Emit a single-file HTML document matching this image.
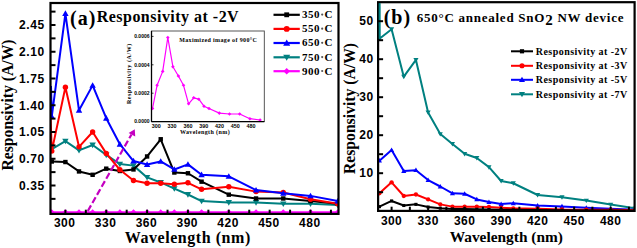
<!DOCTYPE html><html><head><meta charset="utf-8"><style>html,body{margin:0;padding:0;background:#fff;width:637px;height:248px;overflow:hidden}svg{display:block}</style></head><body><svg width="637" height="248" viewBox="0 0 637 248">
<rect width="637" height="248" fill="#fff"/>
<defs><clipPath id="ca"><rect x="50" y="2" width="289" height="211"/></clipPath><clipPath id="cb"><rect x="377" y="2" width="258" height="210"/></clipPath></defs>
<g clip-path="url(#ca)">
<polyline points="51.78,212.25 65.4,212.25 79.02,212.25 92.63,212.25 106.25,212.25 119.87,212.25 133.49,212.25 147.1,212.25 160.72,212.25 174.34,212.25 187.95,212.25 201.57,212.25 228.8,212.25 256.04,212.25 283.27,212.25 310.51,212.25 337.74,212.25" fill="none" stroke="#ff00ff" stroke-width="2.0" stroke-linejoin="round"/><path d="M51.78 209.25L54.78 212.25L51.78 215.25L48.78 212.25Z" fill="#ff00ff"/><path d="M65.4 209.25L68.4 212.25L65.4 215.25L62.4 212.25Z" fill="#ff00ff"/><path d="M79.02 209.25L82.02 212.25L79.02 215.25L76.02 212.25Z" fill="#ff00ff"/><path d="M92.63 209.25L95.63 212.25L92.63 215.25L89.63 212.25Z" fill="#ff00ff"/><path d="M106.25 209.25L109.25 212.25L106.25 215.25L103.25 212.25Z" fill="#ff00ff"/><path d="M119.87 209.25L122.87 212.25L119.87 215.25L116.87 212.25Z" fill="#ff00ff"/><path d="M133.49 209.25L136.49 212.25L133.49 215.25L130.49 212.25Z" fill="#ff00ff"/><path d="M147.1 209.25L150.1 212.25L147.1 215.25L144.1 212.25Z" fill="#ff00ff"/><path d="M160.72 209.25L163.72 212.25L160.72 215.25L157.72 212.25Z" fill="#ff00ff"/><path d="M174.34 209.25L177.34 212.25L174.34 215.25L171.34 212.25Z" fill="#ff00ff"/><path d="M187.95 209.25L190.95 212.25L187.95 215.25L184.95 212.25Z" fill="#ff00ff"/><path d="M201.57 209.25L204.57 212.25L201.57 215.25L198.57 212.25Z" fill="#ff00ff"/><path d="M228.8 209.25L231.8 212.25L228.8 215.25L225.8 212.25Z" fill="#ff00ff"/><path d="M256.04 209.25L259.04 212.25L256.04 215.25L253.04 212.25Z" fill="#ff00ff"/><path d="M283.27 209.25L286.27 212.25L283.27 215.25L280.27 212.25Z" fill="#ff00ff"/><path d="M310.51 209.25L313.51 212.25L310.51 215.25L307.51 212.25Z" fill="#ff00ff"/><path d="M337.74 209.25L340.74 212.25L337.74 215.25L334.74 212.25Z" fill="#ff00ff"/>
<polyline points="50.6,139 51.78,149.2 65.4,141.17 79.02,150.34 92.63,144.99 106.25,154.93 119.87,164.1 133.49,165.63 147.1,177.4 160.72,182.44 174.34,188.56 187.95,194.52 201.57,201.09 228.8,202.47 256.04,202.47 283.27,203.84 310.51,203.84 337.74,204.99" fill="none" stroke="#008080" stroke-width="2.0" stroke-linejoin="round"/><path d="M51.78 152.4L54.98 146.8L48.58 146.8Z" fill="#008080"/><path d="M65.4 144.37L68.6 138.77L62.2 138.77Z" fill="#008080"/><path d="M79.02 153.54L82.22 147.94L75.82 147.94Z" fill="#008080"/><path d="M92.63 148.19L95.83 142.59L89.43 142.59Z" fill="#008080"/><path d="M106.25 158.13L109.45 152.53L103.05 152.53Z" fill="#008080"/><path d="M119.87 167.3L123.07 161.7L116.67 161.7Z" fill="#008080"/><path d="M133.49 168.83L136.69 163.23L130.29 163.23Z" fill="#008080"/><path d="M147.1 180.6L150.3 175L143.9 175Z" fill="#008080"/><path d="M160.72 185.64L163.92 180.04L157.52 180.04Z" fill="#008080"/><path d="M174.34 191.76L177.54 186.16L171.14 186.16Z" fill="#008080"/><path d="M187.95 197.72L191.15 192.12L184.75 192.12Z" fill="#008080"/><path d="M201.57 204.29L204.77 198.69L198.37 198.69Z" fill="#008080"/><path d="M228.8 205.67L232 200.07L225.6 200.07Z" fill="#008080"/><path d="M256.04 205.67L259.24 200.07L252.84 200.07Z" fill="#008080"/><path d="M283.27 207.04L286.47 201.44L280.07 201.44Z" fill="#008080"/><path d="M310.51 207.04L313.71 201.44L307.31 201.44Z" fill="#008080"/><path d="M337.74 208.19L340.94 202.59L334.54 202.59Z" fill="#008080"/>
<polyline points="51.78,161.5 65.4,162.04 79.02,171.44 92.63,174.8 106.25,168.68 119.87,170.98 133.49,169.45 147.1,156.46 160.72,139.26 174.34,172.51 187.95,173.27 201.57,181.68 228.8,194.67 256.04,198.49 283.27,198.49 310.51,201.09 337.74,203.84" fill="none" stroke="#000000" stroke-width="2.0" stroke-linejoin="round"/><rect x="49.58" y="159.3" width="4.4" height="4.4" fill="#000000"/><rect x="63.2" y="159.84" width="4.4" height="4.4" fill="#000000"/><rect x="76.82" y="169.24" width="4.4" height="4.4" fill="#000000"/><rect x="90.43" y="172.6" width="4.4" height="4.4" fill="#000000"/><rect x="104.05" y="166.48" width="4.4" height="4.4" fill="#000000"/><rect x="117.67" y="168.78" width="4.4" height="4.4" fill="#000000"/><rect x="131.29" y="167.25" width="4.4" height="4.4" fill="#000000"/><rect x="144.9" y="154.26" width="4.4" height="4.4" fill="#000000"/><rect x="158.52" y="137.06" width="4.4" height="4.4" fill="#000000"/><rect x="172.14" y="170.31" width="4.4" height="4.4" fill="#000000"/><rect x="185.75" y="171.07" width="4.4" height="4.4" fill="#000000"/><rect x="199.37" y="179.48" width="4.4" height="4.4" fill="#000000"/><rect x="226.6" y="192.47" width="4.4" height="4.4" fill="#000000"/><rect x="253.84" y="196.29" width="4.4" height="4.4" fill="#000000"/><rect x="281.07" y="196.29" width="4.4" height="4.4" fill="#000000"/><rect x="308.31" y="198.89" width="4.4" height="4.4" fill="#000000"/><rect x="335.54" y="201.64" width="4.4" height="4.4" fill="#000000"/>
<polyline points="50.3,110 51.78,151.11 65.4,87.29 79.02,146.83 92.63,132 106.25,153.4 119.87,169.75 133.49,180.53 147.1,183.21 160.72,183.21 174.34,184.2 187.95,182.82 201.57,189.32 228.8,186.72 256.04,191.61 283.27,192.53 310.51,199.26 337.74,203.84" fill="none" stroke="#ff0000" stroke-width="2.0" stroke-linejoin="round"/><circle cx="51.78" cy="151.11" r="2.7" fill="#ff0000"/><circle cx="65.4" cy="87.29" r="2.7" fill="#ff0000"/><circle cx="79.02" cy="146.83" r="2.7" fill="#ff0000"/><circle cx="92.63" cy="132" r="2.7" fill="#ff0000"/><circle cx="106.25" cy="153.4" r="2.7" fill="#ff0000"/><circle cx="119.87" cy="169.75" r="2.7" fill="#ff0000"/><circle cx="133.49" cy="180.53" r="2.7" fill="#ff0000"/><circle cx="147.1" cy="183.21" r="2.7" fill="#ff0000"/><circle cx="160.72" cy="183.21" r="2.7" fill="#ff0000"/><circle cx="174.34" cy="184.2" r="2.7" fill="#ff0000"/><circle cx="187.95" cy="182.82" r="2.7" fill="#ff0000"/><circle cx="201.57" cy="189.32" r="2.7" fill="#ff0000"/><circle cx="228.8" cy="186.72" r="2.7" fill="#ff0000"/><circle cx="256.04" cy="191.61" r="2.7" fill="#ff0000"/><circle cx="283.27" cy="192.53" r="2.7" fill="#ff0000"/><circle cx="310.51" cy="199.26" r="2.7" fill="#ff0000"/><circle cx="337.74" cy="203.84" r="2.7" fill="#ff0000"/>
<polyline points="51,86 51.78,116.48 65.4,13.53 79.02,110.29 92.63,85.38 106.25,118.24 119.87,144.23 133.49,161.04 147.1,164.48 160.72,161.42 174.34,169.45 187.95,164.4 201.57,174.8 228.8,176.33 256.04,190.09 283.27,193.3 310.51,195.89 337.74,201.09" fill="none" stroke="#0000ff" stroke-width="2.0" stroke-linejoin="round"/><path d="M51.78 113.28L54.98 118.88L48.58 118.88Z" fill="#0000ff"/><path d="M65.4 10.33L68.6 15.93L62.2 15.93Z" fill="#0000ff"/><path d="M79.02 107.09L82.22 112.69L75.82 112.69Z" fill="#0000ff"/><path d="M92.63 82.18L95.83 87.78L89.43 87.78Z" fill="#0000ff"/><path d="M106.25 115.04L109.45 120.64L103.05 120.64Z" fill="#0000ff"/><path d="M119.87 141.03L123.07 146.63L116.67 146.63Z" fill="#0000ff"/><path d="M133.49 157.84L136.69 163.44L130.29 163.44Z" fill="#0000ff"/><path d="M147.1 161.28L150.3 166.88L143.9 166.88Z" fill="#0000ff"/><path d="M160.72 158.22L163.92 163.82L157.52 163.82Z" fill="#0000ff"/><path d="M174.34 166.25L177.54 171.85L171.14 171.85Z" fill="#0000ff"/><path d="M187.95 161.2L191.15 166.8L184.75 166.8Z" fill="#0000ff"/><path d="M201.57 171.6L204.77 177.2L198.37 177.2Z" fill="#0000ff"/><path d="M228.8 173.13L232 178.73L225.6 178.73Z" fill="#0000ff"/><path d="M256.04 186.89L259.24 192.49L252.84 192.49Z" fill="#0000ff"/><path d="M283.27 190.1L286.47 195.7L280.07 195.7Z" fill="#0000ff"/><path d="M310.51 192.69L313.71 198.29L307.31 198.29Z" fill="#0000ff"/><path d="M337.74 197.89L340.94 203.49L334.54 203.49Z" fill="#0000ff"/>
</g>
<line x1="87.8" y1="211" x2="131.5" y2="134.5" stroke="#c400c0" stroke-width="2.2" stroke-dasharray="6.5 2.8"/>
<path d="M134.8 129.2L135.2 136.6L128.6 132.9Z" fill="#c400c0"/>
<rect x="50.5" y="3.0" width="288" height="210.9" fill="none" stroke="#000" stroke-width="2.2"/>
<line x1="65.4" y1="213.9" x2="65.4" y2="209.7" stroke="#000" stroke-width="2"/>
<line x1="85.83" y1="213.9" x2="85.83" y2="209.7" stroke="#000" stroke-width="2"/>
<line x1="106.25" y1="213.9" x2="106.25" y2="209.7" stroke="#000" stroke-width="2"/>
<line x1="126.68" y1="213.9" x2="126.68" y2="209.7" stroke="#000" stroke-width="2"/>
<line x1="147.1" y1="213.9" x2="147.1" y2="209.7" stroke="#000" stroke-width="2"/>
<line x1="167.53" y1="213.9" x2="167.53" y2="209.7" stroke="#000" stroke-width="2"/>
<line x1="187.95" y1="213.9" x2="187.95" y2="209.7" stroke="#000" stroke-width="2"/>
<line x1="208.38" y1="213.9" x2="208.38" y2="209.7" stroke="#000" stroke-width="2"/>
<line x1="228.8" y1="213.9" x2="228.8" y2="209.7" stroke="#000" stroke-width="2"/>
<line x1="249.23" y1="213.9" x2="249.23" y2="209.7" stroke="#000" stroke-width="2"/>
<line x1="269.65" y1="213.9" x2="269.65" y2="209.7" stroke="#000" stroke-width="2"/>
<line x1="290.08" y1="213.9" x2="290.08" y2="209.7" stroke="#000" stroke-width="2"/>
<line x1="310.51" y1="213.9" x2="310.51" y2="209.7" stroke="#000" stroke-width="2"/>
<line x1="330.93" y1="213.9" x2="330.93" y2="209.7" stroke="#000" stroke-width="2"/>
<line x1="50.5" y1="198.87" x2="55.5" y2="198.87" stroke="#000" stroke-width="2"/>
<line x1="50.5" y1="185.5" x2="55.5" y2="185.5" stroke="#000" stroke-width="2"/>
<line x1="50.5" y1="172.12" x2="55.5" y2="172.12" stroke="#000" stroke-width="2"/>
<line x1="50.5" y1="158.75" x2="55.5" y2="158.75" stroke="#000" stroke-width="2"/>
<line x1="50.5" y1="145.37" x2="55.5" y2="145.37" stroke="#000" stroke-width="2"/>
<line x1="50.5" y1="132" x2="55.5" y2="132" stroke="#000" stroke-width="2"/>
<line x1="50.5" y1="118.62" x2="55.5" y2="118.62" stroke="#000" stroke-width="2"/>
<line x1="50.5" y1="105.25" x2="55.5" y2="105.25" stroke="#000" stroke-width="2"/>
<line x1="50.5" y1="91.87" x2="55.5" y2="91.87" stroke="#000" stroke-width="2"/>
<line x1="50.5" y1="78.5" x2="55.5" y2="78.5" stroke="#000" stroke-width="2"/>
<line x1="50.5" y1="65.12" x2="55.5" y2="65.12" stroke="#000" stroke-width="2"/>
<line x1="50.5" y1="51.75" x2="55.5" y2="51.75" stroke="#000" stroke-width="2"/>
<line x1="50.5" y1="38.37" x2="55.5" y2="38.37" stroke="#000" stroke-width="2"/>
<line x1="50.5" y1="25" x2="55.5" y2="25" stroke="#000" stroke-width="2"/>
<line x1="50.5" y1="11.62" x2="55.5" y2="11.62" stroke="#000" stroke-width="2"/>
<g font-family="Liberation Sans" font-weight="bold" font-size="12" fill="#000">
<text x="64.7" y="226.8" text-anchor="middle" letter-spacing="0.5">300</text>
<text x="105.55" y="226.8" text-anchor="middle" letter-spacing="0.5">330</text>
<text x="146.4" y="226.8" text-anchor="middle" letter-spacing="0.5">360</text>
<text x="187.25" y="226.8" text-anchor="middle" letter-spacing="0.5">390</text>
<text x="228.1" y="226.8" text-anchor="middle" letter-spacing="0.5">420</text>
<text x="268.95" y="226.8" text-anchor="middle" letter-spacing="0.5">450</text>
<text x="309.81" y="226.8" text-anchor="middle" letter-spacing="0.5">480</text>
<text x="44.8" y="189.8" text-anchor="end" letter-spacing="0.6">0.35</text>
<text x="44.8" y="163.05" text-anchor="end" letter-spacing="0.6">0.70</text>
<text x="44.8" y="136.3" text-anchor="end" letter-spacing="0.6">1.05</text>
<text x="44.8" y="109.55" text-anchor="end" letter-spacing="0.6">1.40</text>
<text x="44.8" y="82.8" text-anchor="end" letter-spacing="0.6">1.75</text>
<text x="44.8" y="56.05" text-anchor="end" letter-spacing="0.6">2.10</text>
<text x="44.8" y="29.3" text-anchor="end" letter-spacing="0.6">2.45</text>
</g>
<text x="124.8" y="242.5" font-family="Liberation Serif" font-weight="bold" font-size="16" letter-spacing="0.55">Wavelength (nm)</text>
<text transform="translate(13.3 105) rotate(-90)" text-anchor="middle" font-family="Liberation Serif" font-weight="bold" font-size="15.7">Responsivity (A/W)</text>
<text x="69.9" y="24.8" font-family="Liberation Serif" font-weight="bold" font-size="20" letter-spacing="1.1">(a)</text>
<text x="96.7" y="21.7" font-family="Liberation Serif" font-weight="bold" font-size="16" letter-spacing="0.48">Responsivity at -2V</text>
<line x1="273.5" y1="14.8" x2="299.8" y2="14.8" stroke="#000000" stroke-width="2.2"/>
<rect x="284.28" y="12.38" width="4.84" height="4.84" fill="#000000"/>
<text x="302" y="18.1" font-family="Liberation Serif" font-weight="bold" font-size="11" letter-spacing="0.45">350</text>
<circle cx="322.2" cy="14.6" r="1.1" fill="#555"/>
<text x="324.6" y="18.1" font-family="Liberation Serif" font-weight="bold" font-size="11">C</text>
<line x1="273.5" y1="28.9" x2="299.8" y2="28.9" stroke="#ff0000" stroke-width="2.2"/>
<circle cx="286.7" cy="28.9" r="2.97" fill="#ff0000"/>
<text x="302" y="32.2" font-family="Liberation Serif" font-weight="bold" font-size="11" letter-spacing="0.45">550</text>
<circle cx="322.2" cy="28.7" r="1.1" fill="#555"/>
<text x="324.6" y="32.2" font-family="Liberation Serif" font-weight="bold" font-size="11">C</text>
<line x1="273.5" y1="43.0" x2="299.8" y2="43.0" stroke="#0000ff" stroke-width="2.2"/>
<path d="M286.7 39.48L290.22 45.64L283.18 45.64Z" fill="#0000ff"/>
<text x="302" y="46.3" font-family="Liberation Serif" font-weight="bold" font-size="11" letter-spacing="0.45">650</text>
<circle cx="322.2" cy="42.8" r="1.1" fill="#555"/>
<text x="324.6" y="46.3" font-family="Liberation Serif" font-weight="bold" font-size="11">C</text>
<line x1="273.5" y1="57.3" x2="299.8" y2="57.3" stroke="#008080" stroke-width="2.2"/>
<path d="M286.7 60.82L290.22 54.66L283.18 54.66Z" fill="#008080"/>
<text x="302" y="60.6" font-family="Liberation Serif" font-weight="bold" font-size="11" letter-spacing="0.45">750</text>
<circle cx="322.2" cy="57.1" r="1.1" fill="#555"/>
<text x="324.6" y="60.6" font-family="Liberation Serif" font-weight="bold" font-size="11">C</text>
<line x1="273.5" y1="71.2" x2="299.8" y2="71.2" stroke="#ff00ff" stroke-width="2.2"/>
<path d="M286.7 67.9L290 71.2L286.7 74.5L283.4 71.2Z" fill="#ff00ff"/>
<text x="302" y="74.5" font-family="Liberation Serif" font-weight="bold" font-size="11" letter-spacing="0.45">900</text>
<circle cx="322.2" cy="71" r="1.1" fill="#555"/>
<text x="324.6" y="74.5" font-family="Liberation Serif" font-weight="bold" font-size="11">C</text>
<rect x="151.5" y="31" width="112.8" height="90.6" fill="#fff" stroke="#444" stroke-width="0.9"/>
<polyline points="152.5,108.5 157.1,85.3 162.7,71.4 167.8,37.5 172.9,66.7 178.4,76 183.5,85.3 188.6,103.8 193.7,97.8 198.8,99.2 204,106.2 209,108.5 219.3,113.1 229.5,114 239.7,114 249.9,118.7 260.1,120" fill="none" stroke="#ff00ff" stroke-width="1.2" stroke-linejoin="round"/><path d="M152.5 106.7L154.3 108.5L152.5 110.3L150.7 108.5Z" fill="#ff00ff"/><path d="M157.1 83.5L158.9 85.3L157.1 87.1L155.3 85.3Z" fill="#ff00ff"/><path d="M162.7 69.6L164.5 71.4L162.7 73.2L160.9 71.4Z" fill="#ff00ff"/><path d="M167.8 35.7L169.6 37.5L167.8 39.3L166 37.5Z" fill="#ff00ff"/><path d="M172.9 64.9L174.7 66.7L172.9 68.5L171.1 66.7Z" fill="#ff00ff"/><path d="M178.4 74.2L180.2 76L178.4 77.8L176.6 76Z" fill="#ff00ff"/><path d="M183.5 83.5L185.3 85.3L183.5 87.1L181.7 85.3Z" fill="#ff00ff"/><path d="M188.6 102L190.4 103.8L188.6 105.6L186.8 103.8Z" fill="#ff00ff"/><path d="M193.7 96L195.5 97.8L193.7 99.6L191.9 97.8Z" fill="#ff00ff"/><path d="M198.8 97.4L200.6 99.2L198.8 101L197 99.2Z" fill="#ff00ff"/><path d="M204 104.4L205.8 106.2L204 108L202.2 106.2Z" fill="#ff00ff"/><path d="M209 106.7L210.8 108.5L209 110.3L207.2 108.5Z" fill="#ff00ff"/><path d="M219.3 111.3L221.1 113.1L219.3 114.9L217.5 113.1Z" fill="#ff00ff"/><path d="M229.5 112.2L231.3 114L229.5 115.8L227.7 114Z" fill="#ff00ff"/><path d="M239.7 112.2L241.5 114L239.7 115.8L237.9 114Z" fill="#ff00ff"/><path d="M249.9 116.9L251.7 118.7L249.9 120.5L248.1 118.7Z" fill="#ff00ff"/><path d="M260.1 118.2L261.9 120L260.1 121.8L258.3 120Z" fill="#ff00ff"/>
<line x1="151.5" y1="31" x2="151.5" y2="121.6" stroke="#000" stroke-width="1.3"/>
<line x1="151.5" y1="121.6" x2="264.3" y2="121.6" stroke="#000" stroke-width="1.3"/>
<line x1="151.5" y1="121.6" x2="153.5" y2="121.6" stroke="#000" stroke-width="0.8"/>
<text x="149.5" y="123.4" text-anchor="end" font-family="Liberation Sans" font-weight="bold" font-size="5">0.0000</text>
<line x1="151.5" y1="93.2" x2="153.5" y2="93.2" stroke="#000" stroke-width="0.8"/>
<text x="149.5" y="95" text-anchor="end" font-family="Liberation Sans" font-weight="bold" font-size="5">0.0002</text>
<line x1="151.5" y1="64.8" x2="153.5" y2="64.8" stroke="#000" stroke-width="0.8"/>
<text x="149.5" y="66.6" text-anchor="end" font-family="Liberation Sans" font-weight="bold" font-size="5">0.0004</text>
<line x1="151.5" y1="36.4" x2="153.5" y2="36.4" stroke="#000" stroke-width="0.8"/>
<text x="149.5" y="38.2" text-anchor="end" font-family="Liberation Sans" font-weight="bold" font-size="5">0.0006</text>
<text x="156.3" y="128" text-anchor="middle" font-family="Liberation Sans" font-weight="bold" font-size="5.4">300</text>
<text x="172.1" y="128" text-anchor="middle" font-family="Liberation Sans" font-weight="bold" font-size="5.4">330</text>
<text x="187.9" y="128" text-anchor="middle" font-family="Liberation Sans" font-weight="bold" font-size="5.4">360</text>
<text x="203.7" y="128" text-anchor="middle" font-family="Liberation Sans" font-weight="bold" font-size="5.4">390</text>
<text x="219.5" y="128" text-anchor="middle" font-family="Liberation Sans" font-weight="bold" font-size="5.4">420</text>
<text x="235.3" y="128" text-anchor="middle" font-family="Liberation Sans" font-weight="bold" font-size="5.4">450</text>
<text x="251.11" y="128" text-anchor="middle" font-family="Liberation Sans" font-weight="bold" font-size="5.4">480</text>
<text x="179.9" y="134.4" font-family="Liberation Serif" font-weight="bold" font-size="6" letter-spacing="0.4">Wavelength (nm)</text>
<text transform="translate(131 73.6) rotate(-90)" text-anchor="middle" font-family="Liberation Serif" font-weight="bold" font-size="6" letter-spacing="0.6">Responsivity (A/W)</text>
<text x="179.2" y="41.6" font-family="Liberation Serif" font-weight="bold" font-size="6" letter-spacing="0.37">Maximized image of 900°C</text>
<g clip-path="url(#cb)">
<polyline points="379.4,1 379.43,38.68 391.6,29.18 403.77,76.68 415.94,59.96 428.11,112.4 440.28,134.06 452.45,143.94 464.62,153.82 476.79,158 488.96,167.12 501.13,180.99 513.3,183.27 537.64,195.01 561.98,197.14 586.32,200.56 610.66,204.59 635,208.31" fill="none" stroke="#008080" stroke-width="2.0" stroke-linejoin="round"/><path d="M379.43 41.24L381.99 36.76L376.87 36.76Z" fill="#008080"/><path d="M391.6 31.74L394.16 27.26L389.04 27.26Z" fill="#008080"/><path d="M403.77 79.24L406.33 74.76L401.21 74.76Z" fill="#008080"/><path d="M415.94 62.52L418.5 58.04L413.38 58.04Z" fill="#008080"/><path d="M428.11 114.96L430.67 110.48L425.55 110.48Z" fill="#008080"/><path d="M440.28 136.62L442.84 132.14L437.72 132.14Z" fill="#008080"/><path d="M452.45 146.5L455.01 142.02L449.89 142.02Z" fill="#008080"/><path d="M464.62 156.38L467.18 151.9L462.06 151.9Z" fill="#008080"/><path d="M476.79 160.56L479.35 156.08L474.23 156.08Z" fill="#008080"/><path d="M488.96 169.68L491.52 165.2L486.4 165.2Z" fill="#008080"/><path d="M501.13 183.55L503.69 179.07L498.57 179.07Z" fill="#008080"/><path d="M513.3 185.83L515.86 181.35L510.74 181.35Z" fill="#008080"/><path d="M537.64 197.57L540.2 193.09L535.08 193.09Z" fill="#008080"/><path d="M561.98 199.7L564.54 195.22L559.42 195.22Z" fill="#008080"/><path d="M586.32 203.12L588.88 198.64L583.76 198.64Z" fill="#008080"/><path d="M610.66 207.15L613.22 202.67L608.1 202.67Z" fill="#008080"/><path d="M635 210.87L637.56 206.39L632.44 206.39Z" fill="#008080"/>
<polyline points="379.43,160.66 391.6,150.02 403.77,171.11 415.94,170.16 428.11,180.04 440.28,186.5 452.45,193.34 464.62,193.72 476.79,199.42 488.96,202.08 501.13,203.98 513.3,203.22 537.64,205.5 561.98,206.41 586.32,207.78 610.66,208.77 635,209.79" fill="none" stroke="#0000ff" stroke-width="2.0" stroke-linejoin="round"/><path d="M379.43 158.1L381.99 162.58L376.87 162.58Z" fill="#0000ff"/><path d="M391.6 147.46L394.16 151.94L389.04 151.94Z" fill="#0000ff"/><path d="M403.77 168.55L406.33 173.03L401.21 173.03Z" fill="#0000ff"/><path d="M415.94 167.6L418.5 172.08L413.38 172.08Z" fill="#0000ff"/><path d="M428.11 177.48L430.67 181.96L425.55 181.96Z" fill="#0000ff"/><path d="M440.28 183.94L442.84 188.42L437.72 188.42Z" fill="#0000ff"/><path d="M452.45 190.78L455.01 195.26L449.89 195.26Z" fill="#0000ff"/><path d="M464.62 191.16L467.18 195.64L462.06 195.64Z" fill="#0000ff"/><path d="M476.79 196.86L479.35 201.34L474.23 201.34Z" fill="#0000ff"/><path d="M488.96 199.52L491.52 204L486.4 204Z" fill="#0000ff"/><path d="M501.13 201.42L503.69 205.9L498.57 205.9Z" fill="#0000ff"/><path d="M513.3 200.66L515.86 205.14L510.74 205.14Z" fill="#0000ff"/><path d="M537.64 202.94L540.2 207.42L535.08 207.42Z" fill="#0000ff"/><path d="M561.98 203.85L564.54 208.33L559.42 208.33Z" fill="#0000ff"/><path d="M586.32 205.22L588.88 209.7L583.76 209.7Z" fill="#0000ff"/><path d="M610.66 206.21L613.22 210.69L608.1 210.69Z" fill="#0000ff"/><path d="M635 207.23L637.56 211.71L632.44 211.71Z" fill="#0000ff"/>
<polyline points="379.43,193.34 391.6,182.32 403.77,196 415.94,194.48 428.11,199.42 440.28,204.36 452.45,206.64 464.62,206.64 476.79,206.64 488.96,207.02 501.13,207.78 513.3,208.35 537.64,208.73 561.98,209.49 586.32,209.68 610.66,209.87 635,210.06" fill="none" stroke="#ff0000" stroke-width="2.0" stroke-linejoin="round"/><circle cx="379.43" cy="193.34" r="2.16" fill="#ff0000"/><circle cx="391.6" cy="182.32" r="2.16" fill="#ff0000"/><circle cx="403.77" cy="196" r="2.16" fill="#ff0000"/><circle cx="415.94" cy="194.48" r="2.16" fill="#ff0000"/><circle cx="428.11" cy="199.42" r="2.16" fill="#ff0000"/><circle cx="440.28" cy="204.36" r="2.16" fill="#ff0000"/><circle cx="452.45" cy="206.64" r="2.16" fill="#ff0000"/><circle cx="464.62" cy="206.64" r="2.16" fill="#ff0000"/><circle cx="476.79" cy="206.64" r="2.16" fill="#ff0000"/><circle cx="488.96" cy="207.02" r="2.16" fill="#ff0000"/><circle cx="501.13" cy="207.78" r="2.16" fill="#ff0000"/><circle cx="513.3" cy="208.35" r="2.16" fill="#ff0000"/><circle cx="537.64" cy="208.73" r="2.16" fill="#ff0000"/><circle cx="561.98" cy="209.49" r="2.16" fill="#ff0000"/><circle cx="586.32" cy="209.68" r="2.16" fill="#ff0000"/><circle cx="610.66" cy="209.87" r="2.16" fill="#ff0000"/><circle cx="635" cy="210.06" r="2.16" fill="#ff0000"/>
<polyline points="379.43,206.64 391.6,200.94 403.77,205.5 415.94,204.36 428.11,207.02 440.28,208.16 452.45,208.92 464.62,209.11 476.79,209.3 488.96,209.49 501.13,209.68 513.3,209.87 537.64,210.06 561.98,210.25 586.32,210.44 610.66,210.44 635,210.63" fill="none" stroke="#000000" stroke-width="2.0" stroke-linejoin="round"/><rect x="377.89" y="205.1" width="3.08" height="3.08" fill="#000000"/><rect x="390.06" y="199.4" width="3.08" height="3.08" fill="#000000"/><rect x="402.23" y="203.96" width="3.08" height="3.08" fill="#000000"/><rect x="414.4" y="202.82" width="3.08" height="3.08" fill="#000000"/><rect x="426.57" y="205.48" width="3.08" height="3.08" fill="#000000"/><rect x="438.74" y="206.62" width="3.08" height="3.08" fill="#000000"/><rect x="450.91" y="207.38" width="3.08" height="3.08" fill="#000000"/><rect x="463.08" y="207.57" width="3.08" height="3.08" fill="#000000"/><rect x="475.25" y="207.76" width="3.08" height="3.08" fill="#000000"/><rect x="487.42" y="207.95" width="3.08" height="3.08" fill="#000000"/><rect x="499.59" y="208.14" width="3.08" height="3.08" fill="#000000"/><rect x="511.76" y="208.33" width="3.08" height="3.08" fill="#000000"/><rect x="536.1" y="208.52" width="3.08" height="3.08" fill="#000000"/><rect x="560.44" y="208.71" width="3.08" height="3.08" fill="#000000"/><rect x="584.78" y="208.9" width="3.08" height="3.08" fill="#000000"/><rect x="609.12" y="208.9" width="3.08" height="3.08" fill="#000000"/><rect x="633.46" y="209.09" width="3.08" height="3.08" fill="#000000"/>
</g>
<rect x="378.1" y="2.2" width="256.5" height="208.7" fill="none" stroke="#000" stroke-width="2.2"/>
<line x1="379.5" y1="3.2" x2="379.6" y2="38.7" stroke="#008080" stroke-width="1.8"/>
<line x1="391.6" y1="210.9" x2="391.6" y2="206.7" stroke="#000" stroke-width="2"/>
<line x1="409.86" y1="210.9" x2="409.86" y2="206.7" stroke="#000" stroke-width="2"/>
<line x1="428.11" y1="210.9" x2="428.11" y2="206.7" stroke="#000" stroke-width="2"/>
<line x1="446.37" y1="210.9" x2="446.37" y2="206.7" stroke="#000" stroke-width="2"/>
<line x1="464.62" y1="210.9" x2="464.62" y2="206.7" stroke="#000" stroke-width="2"/>
<line x1="482.88" y1="210.9" x2="482.88" y2="206.7" stroke="#000" stroke-width="2"/>
<line x1="501.13" y1="210.9" x2="501.13" y2="206.7" stroke="#000" stroke-width="2"/>
<line x1="519.38" y1="210.9" x2="519.38" y2="206.7" stroke="#000" stroke-width="2"/>
<line x1="537.64" y1="210.9" x2="537.64" y2="206.7" stroke="#000" stroke-width="2"/>
<line x1="555.89" y1="210.9" x2="555.89" y2="206.7" stroke="#000" stroke-width="2"/>
<line x1="574.15" y1="210.9" x2="574.15" y2="206.7" stroke="#000" stroke-width="2"/>
<line x1="592.4" y1="210.9" x2="592.4" y2="206.7" stroke="#000" stroke-width="2"/>
<line x1="610.66" y1="210.9" x2="610.66" y2="206.7" stroke="#000" stroke-width="2"/>
<line x1="628.92" y1="210.9" x2="628.92" y2="206.7" stroke="#000" stroke-width="2"/>
<line x1="378.1" y1="192.2" x2="383.1" y2="192.2" stroke="#000" stroke-width="2"/>
<line x1="378.1" y1="173.2" x2="383.1" y2="173.2" stroke="#000" stroke-width="2"/>
<line x1="378.1" y1="154.2" x2="383.1" y2="154.2" stroke="#000" stroke-width="2"/>
<line x1="378.1" y1="135.2" x2="383.1" y2="135.2" stroke="#000" stroke-width="2"/>
<line x1="378.1" y1="116.2" x2="383.1" y2="116.2" stroke="#000" stroke-width="2"/>
<line x1="378.1" y1="97.2" x2="383.1" y2="97.2" stroke="#000" stroke-width="2"/>
<line x1="378.1" y1="78.2" x2="383.1" y2="78.2" stroke="#000" stroke-width="2"/>
<line x1="378.1" y1="59.2" x2="383.1" y2="59.2" stroke="#000" stroke-width="2"/>
<line x1="378.1" y1="40.2" x2="383.1" y2="40.2" stroke="#000" stroke-width="2"/>
<line x1="378.1" y1="21.2" x2="383.1" y2="21.2" stroke="#000" stroke-width="2"/>
<g font-family="Liberation Sans" font-weight="bold" font-size="12" fill="#000">
<text x="391.6" y="225.2" text-anchor="middle" letter-spacing="0.4">300</text>
<text x="428.11" y="225.2" text-anchor="middle" letter-spacing="0.4">330</text>
<text x="464.62" y="225.2" text-anchor="middle" letter-spacing="0.4">360</text>
<text x="501.13" y="225.2" text-anchor="middle" letter-spacing="0.4">390</text>
<text x="537.64" y="225.2" text-anchor="middle" letter-spacing="0.4">420</text>
<text x="574.15" y="225.2" text-anchor="middle" letter-spacing="0.4">450</text>
<text x="610.66" y="225.2" text-anchor="middle" letter-spacing="0.4">480</text>
<text x="373.5" y="176.6" text-anchor="end" letter-spacing="0.4">10</text>
<text x="373.5" y="138.6" text-anchor="end" letter-spacing="0.4">20</text>
<text x="373.5" y="100.6" text-anchor="end" letter-spacing="0.4">30</text>
<text x="373.5" y="62.6" text-anchor="end" letter-spacing="0.4">40</text>
<text x="373.5" y="24.6" text-anchor="end" letter-spacing="0.4">50</text>
</g>
<text x="449.7" y="241.7" font-family="Liberation Serif" font-weight="bold" font-size="15.4">Wavelength (nm)</text>
<text transform="translate(354.8 108.5) rotate(-90)" text-anchor="middle" font-family="Liberation Serif" font-weight="bold" font-size="15.7">Responsivity (A/W)</text>
<text x="383.7" y="23.5" font-family="Liberation Serif" font-weight="bold" font-size="20" letter-spacing="1">(b)</text>
<text x="416.7" y="22.2" font-family="Liberation Serif" font-weight="bold" font-size="13" letter-spacing="0.75">650°C annealed SnO<tspan font-size="15" dy="3">2</tspan><tspan dy="-3"> NW device</tspan></text>
<line x1="511" y1="51.3" x2="533" y2="51.3" stroke="#000000" stroke-width="2"/>
<rect x="519.91" y="49.21" width="4.18" height="4.18" fill="#000000"/>
<text x="535.8" y="54.9" font-family="Liberation Serif" font-weight="bold" font-size="10" letter-spacing="0.45">Responsivity at -2V</text>
<line x1="511" y1="65.8" x2="533" y2="65.8" stroke="#ff0000" stroke-width="2"/>
<circle cx="522" cy="65.8" r="2.56" fill="#ff0000"/>
<text x="535.8" y="69.4" font-family="Liberation Serif" font-weight="bold" font-size="10" letter-spacing="0.45">Responsivity at -3V</text>
<line x1="511" y1="79.8" x2="533" y2="79.8" stroke="#0000ff" stroke-width="2"/>
<path d="M522 76.76L525.04 82.08L518.96 82.08Z" fill="#0000ff"/>
<text x="535.8" y="83.4" font-family="Liberation Serif" font-weight="bold" font-size="10" letter-spacing="0.45">Responsivity at -5V</text>
<line x1="511" y1="94.3" x2="533" y2="94.3" stroke="#008080" stroke-width="2"/>
<path d="M522 97.34L525.04 92.02L518.96 92.02Z" fill="#008080"/>
<text x="535.8" y="97.9" font-family="Liberation Serif" font-weight="bold" font-size="10" letter-spacing="0.45">Responsivity at -7V</text>
</svg></body></html>
